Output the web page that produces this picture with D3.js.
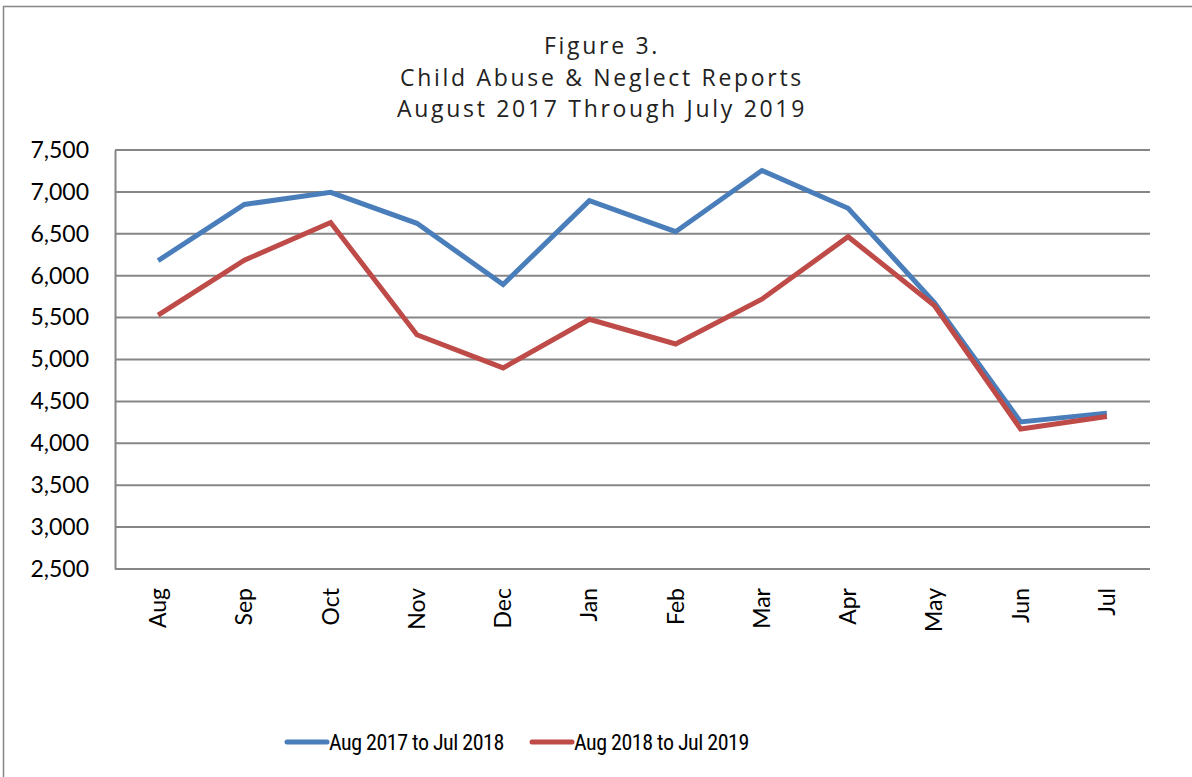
<!DOCTYPE html>
<html>
<head>
<meta charset="utf-8">
<script src="https://cdn.jsdelivr.net/npm/d3@7"></script>
<style>
  body { margin: 0; background: #fff; }
  svg { display: block; }
</style>
</head>
<body>
<div id="chart"></div>
<script>
const months = ["Aug","Sep","Oct","Nov","Dec","Jan","Feb","Mar","Apr","May","Jun","Jul"];
const series1 = [6180, 6850, 6995, 6625, 5895, 6895, 6525, 7255, 6805, 5680, 4255, 4360];
const series2 = [5530, 6185, 6635, 5295, 4900, 5480, 5185, 5720, 6465, 5645, 4170, 4320];
const seriesNames = ["Aug 2017 to Jul 2018", "Aug 2018 to Jul 2019"];
const yTicks = [2500, 3000, 3500, 4000, 4500, 5000, 5500, 6000, 6500, 7000, 7500];
const titleLines = ["Figure 3.", "Child Abuse & Neglect Reports", "August 2017 Through July 2019"];

const width = 1192, height = 777;
const margin = {top: 150, left: 115, right: 42, bottom: 208};
const innerWidth = width - margin.left - margin.right,
      innerHeight = height - margin.top - margin.bottom;
const colors = ["#4a7ebb", "#be4b48"];
const labelFont = "Lato, 'Open Sans', sans-serif";

const svg = d3.select("#chart").append("svg")
  .attr("width", width)
  .attr("height", height);

// outer frame (only left and top edges fall inside the picture)
svg.append("path")
  .attr("d", `M3.5,${height} V6.5 H${width}`)
  .attr("fill", "none")
  .attr("stroke", "#868686")
  .attr("stroke-width", 1.5);

// title
svg.append("g")
  .selectAll("text")
  .data(titleLines)
  .enter().append("text")
  .attr("x", 602)
  .attr("y", (d, i) => 54 + i * 31.5)
  .attr("text-anchor", "middle")
  .style("font-family", "'Open Sans', sans-serif")
  .style("font-size", "23px")
  .style("letter-spacing", "2.7px")
  .attr("fill", "#222")
  .text(d => d);

const g = svg.append("g")
  .attr("transform", `translate(${margin.left}, ${margin.top})`);

const x = d3.scaleBand()
  .domain(months)
  .range([0, innerWidth]);

const y = d3.scaleLinear()
  .domain([2500, 7500])
  .range([innerHeight, 0]);

// gridlines
g.append("g")
  .selectAll("line")
  .data(yTicks)
  .enter().append("line")
  .attr("x1", 0).attr("x2", innerWidth)
  .attr("y1", d => y(d)).attr("y2", d => y(d))
  .attr("stroke", "#868686")
  .attr("stroke-width", 2);

// y axis
const yAxis = g.append("g")
  .call(d3.axisLeft(y).tickValues(yTicks).tickSize(0).tickPadding(26).tickFormat(d3.format(",")));
yAxis.select(".domain").attr("stroke", "#868686").attr("stroke-width", 2);
yAxis.selectAll("text")
  .style("font-family", labelFont)
  .style("font-size", "23px")
  .attr("fill", "#000");

// x axis
const xAxis = g.append("g")
  .attr("transform", `translate(0, ${innerHeight})`)
  .call(d3.axisBottom(x).tickSize(0).tickPadding(0));
xAxis.select(".domain").remove();
xAxis.selectAll("text")
  .attr("transform", "rotate(-90)")
  .attr("x", -19)
  .attr("y", 0)
  .attr("dy", "0.35em")
  .style("text-anchor", "end")
  .style("font-family", labelFont)
  .style("font-size", "23px")
  .attr("fill", "#000");

const line = d3.line()
  .x((d, i) => x(months[i]) + x.bandwidth() / 2)
  .y(d => y(d));

[series1, series2].forEach((s, i) => {
  g.append("path")
    .datum(s)
    .attr("d", line)
    .attr("fill", "none")
    .attr("stroke", colors[i])
    .attr("stroke-width", 5)
    .attr("stroke-linejoin", "miter");
});

// legend
const legendX = [287, 532];
const legend = svg.append("g")
  .selectAll("g")
  .data(seriesNames)
  .enter().append("g")
  .attr("transform", (d, i) => `translate(${legendX[i]}, 742)`);
legend.append("line")
  .attr("x1", 0).attr("x2", 40)
  .attr("stroke", (d, i) => colors[i])
  .attr("stroke-width", 5)
  .attr("stroke-linecap", "round");
legend.append("text")
  .attr("x", 42)
  .attr("dy", "0.35em")
  .style("font-family", "'Liberation Sans Narrow', 'Roboto Condensed', sans-serif")
  .style("font-size", "22px")
  .style("letter-spacing", "-0.5px")
  .attr("fill", "#000")
  .text(d => d);
</script>
</body>
</html>
